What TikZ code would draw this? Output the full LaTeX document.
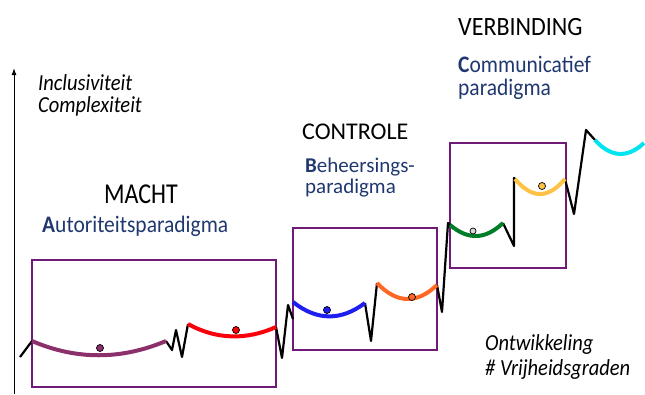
\documentclass[tikz,border=0pt]{standalone}
\usepackage{fontspec}
\setmainfont{Carlito}
\usetikzlibrary{arrows.meta}
\definecolor{boxpurple}{RGB}{110,26,118}
\definecolor{cplum}{RGB}{140,48,108}
\definecolor{cred}{RGB}{250,0,10}
\definecolor{cblue}{RGB}{30,30,240}
\definecolor{corange}{RGB}{255,104,36}
\definecolor{cgreen}{RGB}{0,125,40}
\definecolor{cgold}{RGB}{255,194,70}
\definecolor{ccyan}{RGB}{0,228,240}
\definecolor{cdotgrey}{RGB}{215,215,215}
\definecolor{navy}{RGB}{32,56,112}
\newcommand{\vst}[2]{\scalebox{1}[#1]{#2}}
\begin{document}
\begin{tikzpicture}[x=1pt,y=-1pt,
  frame/.style={draw=boxpurple, line width=2.2pt},
  link/.style={draw=black, line width=2.2pt, line join=round},
  swing/.style={line width=4pt},
  ball/.style={circle, draw=black, line width=0.7pt, inner sep=0pt, minimum size=7pt},
  lbl/.style={anchor=base west, inner sep=0pt, text=black},
  ttl/.style={lbl, font=\fontsize{24}{28}\selectfont},
  sub/.style={lbl, text=navy, font=\fontsize{21.5}{25}\selectfont},
  axlbl/.style={lbl, font=\fontsize{20.5}{24}\selectfont\itshape}]
\useasboundingbox (0,0) rectangle (645,394);
% axis
\coordinate (axb) at (14,394);
\coordinate (axt) at (14,68);
\draw[line width=1pt, -{Latex[length=7pt,width=5pt]}] (axb) -- (axt);
% frames
\draw[frame] (32,260) rectangle (276,387);
\draw[frame] (293,228) rectangle (437,350);
\draw[frame] (450,143) rectangle (566,268);
% curve end points
\coordinate (p0) at (20,357);
\coordinate (a1) at (32,341);  \coordinate (b1) at (166,341);
\coordinate (a2) at (188,324); \coordinate (b2) at (276,327);
\coordinate (a3) at (293,302); \coordinate (b3) at (365,303);
\coordinate (a4) at (377,283); \coordinate (b4) at (437,285);
\coordinate (a5) at (450,225); \coordinate (b5) at (503,223);
\coordinate (a6) at (515,179); \coordinate (b6) at (565,179);
\coordinate (a7) at (595,140); \coordinate (b7) at (644,143);
% black links
\draw[link] (p0) -- (a1);
\draw[link] (b1) -- (172,350) -- (176,330) -- (182,357) -- (a2);
\draw[link] (b2) -- (282,358) -- (288,305) -- (293,319);
\draw[link] (b3) -- (371,341) -- (a4);
\draw[link] (b4) -- (442,312) -- (448,223) -- (a5);
\draw[link] (b5) -- (514,246) -- (514,178) -- (a6);
\draw[link] (b6) -- (574,214) -- (586,130) -- (a7);
% swings
\draw[swing, cplum] (a1) .. controls (76,360) and (121,360) .. (b1);
\draw[swing, cred] (a2) .. controls (217,340) and (247,340) .. (b2);
\draw[swing, cblue] (a3) .. controls (317,321) and (341,321) .. (b3);
\draw[swing, corange] (a4) .. controls (397,304) and (417,304) .. (b4);
\draw[swing, cgreen] (a5) .. controls (468,240) and (485,240) .. (b5);
\draw[swing, cgold] (a6) .. controls (532,199) and (548,199) .. (b6);
\draw[swing, ccyan] (a7) .. controls (611,158) and (628,158) .. (b7);
% balls
\node[ball, fill=cplum] (d1) at (100,348) {};
\node[ball, fill=cred] (d2) at (236,330) {};
\node[ball, fill=cblue] (d3) at (327,310) {};
\node[ball, fill=corange] (d4) at (412,297) {};
\node[ball, fill=cdotgrey, minimum size=6pt] (d5) at (473,231) {};
\node[ball, fill=cgold] (d6) at (542,186) {};
% texts
\node[axlbl] (t1) at (38,90) {\vst{1.12}{Inclusiviteit}};
\node[axlbl] (t2) at (38,112) {\vst{1.12}{Complexiteit}};
\node[ttl] (m1) at (104,203) {\vst{1.2}{MACHT}};
\node[sub] (m2) at (42,232) {\vst{1.1}{\textbf{A}utoriteitsparadigma}};
\node[ttl] (c1) at (302,139) {\vst{1.0}{CONTROLE}};
\node[sub, font=\fontsize{21}{24}\selectfont] (c2) at (305,172) {\textbf{B}eheersings-};
\node[sub, font=\fontsize{21}{24}\selectfont] (c3) at (305,193) {paradigma};
\node[ttl] (v1) at (458,35) {\vst{1.1}{VERBINDING}};
\node[sub] (v2) at (458,72) {\vst{1.1}{\textbf{C}ommunicatief}};
\node[sub] (v3) at (458,95) {\vst{1.1}{paradigma}};
\node[axlbl] (o1) at (485,350) {\vst{1.12}{Ontwikkeling}};
\node[axlbl] (o2) at (485,375) {\vst{1.12}{\# Vrijheidsgraden}};
\end{tikzpicture}
\end{document}
